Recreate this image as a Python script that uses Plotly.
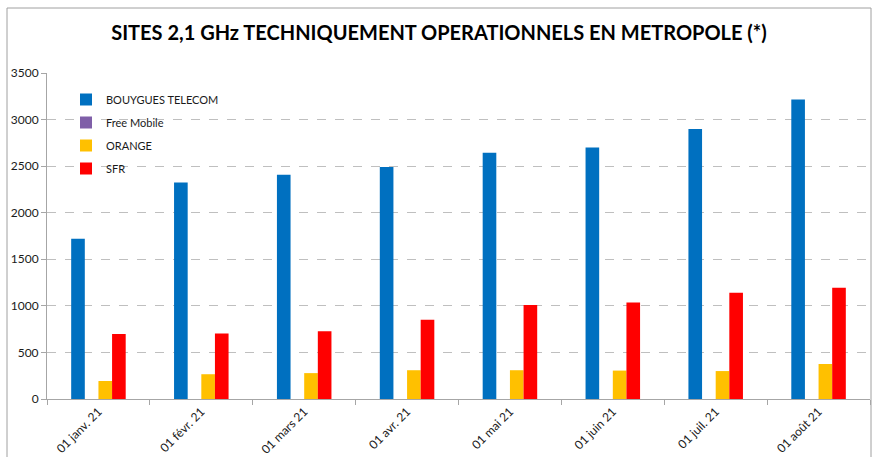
import plotly.graph_objects as go

months = ["01 janv. 21", "01 févr. 21", "01 mars 21", "01 avr. 21",
          "01 mai 21", "01 juin 21", "01 juil. 21", "01 août 21"]
bouygues = [1720, 2325, 2408, 2492, 2645, 2700, 2900, 3215]
free_mobile = [0, 0, 0, 0, 0, 0, 0, 0]
orange = [193, 266, 278, 309, 309, 305, 300, 376]
sfr = [698, 702, 728, 850, 1008, 1035, 1140, 1195]

series = [
    ("BOUYGUES TELECOM", bouygues, "#0070C0"),
    ("Free Mobile", free_mobile, "#7F5FA8"),
    ("ORANGE", orange, "#FFC000"),
    ("SFR", sfr, "#FF0000"),
]

FONT = "Lato, Carlito, Calibri, sans-serif"

fig = go.Figure()
for i, (name, vals, col) in enumerate(series):
    fig.add_trace(go.Bar(x=months, y=vals, name=name, legendgroup=f"g{i}",
                         marker=dict(color=col, line=dict(width=0))))

W, H = 873, 457
ml, mr, mt, mb = 47, 3, 73, 58
pw = W - ml - mr
ph = H - mt - mb

fig.update_layout(
    width=W, height=H,
    margin=dict(l=ml, r=mr, t=mt, b=mb, pad=0, autoexpand=False),
    paper_bgcolor="white", plot_bgcolor="white",
    barmode="group", bargap=0.47, bargroupgap=0.0,
    font=dict(family=FONT, size=12, color="#1a1a1a"),
    title=dict(text="<b>SITES 2,1 GHz TECHNIQUEMENT OPERATIONNELS EN METROPOLE (*)</b>",
               x=439 / W, xref="container", xanchor="center",
               y=1 - 33 / H, yref="container", yanchor="middle",
               font=dict(family=FONT, size=20, color="black")),
    legend=dict(x=(66 - ml) / pw, y=(399 - 85) / ph, xanchor="left", yanchor="top",
                bgcolor="rgba(0,0,0,0)", font=dict(family=FONT, size=11, color="#1a1a1a"),
                tracegroupgap=4, itemwidth=30),
    showlegend=True,
    xaxis=dict(showline=True, linecolor="#a6a6a6", linewidth=1, automargin=False,
               ticks="outside", tickson="boundaries", ticklen=5, tickcolor="#a6a6a6",
               tickangle=-45, showgrid=False,
               tickfont=dict(family=FONT, size=12, color="#1a1a1a")),
    yaxis=dict(range=[0, 3500], dtick=500, showline=True, linecolor="#a6a6a6",
               automargin=False,
               ticks="outside", ticklen=5, tickcolor="#a6a6a6",
               showgrid=True, gridcolor="#bfbfbf", griddash="dash", gridwidth=1,
               zeroline=False,
               tickfont=dict(family=FONT, size=12, color="#1a1a1a")),
    shapes=[dict(type="rect", xref="paper", yref="paper",
                 x0=(7 - ml) / pw, x1=(W - 2 - ml) / pw,
                 y0=-(mb + 10) / ph,
                 y1=(H - 8 - mb) / ph,
                 line=dict(color="#a0a0a0", width=1), layer="below")],
)

fig.write_html("out.html", config={"displayModeBar": False},
               post_script="document.body.style.margin='0';document.body.style.overflow='hidden';")
